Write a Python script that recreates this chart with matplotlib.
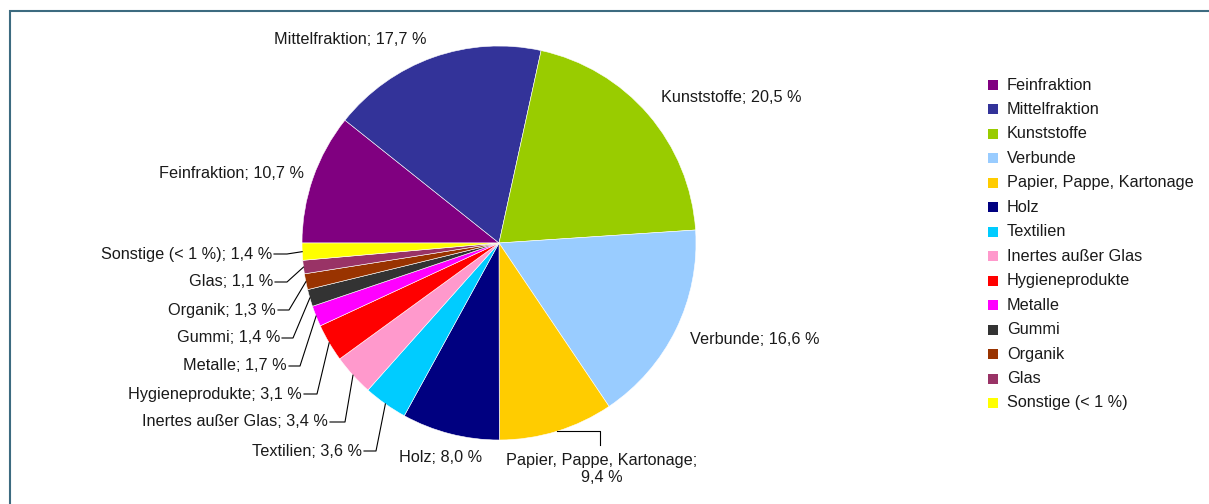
import numpy as np
import matplotlib
matplotlib.use("Agg")
import matplotlib.pyplot as plt
from matplotlib.patches import Rectangle

plt.rcParams['font.family'] = ['Liberation Sans', 'DejaVu Sans']

# Sorting fractions (share of total mass, %)
categories = ["Feinfraktion", "Mittelfraktion", "Kunststoffe", "Verbunde",
              "Papier, Pappe, Kartonage", "Holz", "Textilien",
              "Inertes außer Glas", "Hygieneprodukte", "Metalle", "Gummi",
              "Organik", "Glas", "Sonstige (< 1 %)"]
shares = [10.7, 17.7, 20.5, 16.6, 9.4, 8.0, 3.6, 3.4, 3.1, 1.7, 1.4, 1.3, 1.1, 1.4]
share_labels = ["10,7 %", "17,7 %", "20,5 %", "16,6 %", "9,4 %", "8,0 %", "3,6 %",
                "3,4 %", "3,1 %", "1,7 %", "1,4 %", "1,3 %", "1,1 %", "1,4 %"]
colors = ["#800080", "#333399", "#99CC00", "#99CCFF", "#FFCC00", "#000080",
          "#00CCFF", "#FF99CC", "#FF0000", "#FF00FF", "#333333", "#993300",
          "#993366", "#FFFF00"]

W, H = 1209, 504
fig = plt.figure(figsize=(W / 100, H / 100), dpi=100)
ax = fig.add_axes([0, 0, 1, 1])

cx, cy, R = 499, H - 243, 197
wedges, _ = ax.pie(shares, colors=colors, startangle=180, counterclock=False,
                   center=(cx, cy), radius=R,
                   wedgeprops=dict(linewidth=0.4, edgecolor="white"))

ax.set_xlim(0, W)
ax.set_ylim(0, H)
ax.set_aspect("equal")
ax.axis("off")

FS = 11.7

# label placement: (x, y in screen pixels from top, alignment, elbow x or None)
label_pos = [
    (304, 173, "right", None),
    (427, 39, "right", None),
    (661, 98, "left", None),
    (690, 340, "left", None),
    (602, 469, "center", "paper"),
    (441, 458, "center", None),
    (362, 451, "right", 376),
    (328, 422, "right", 345),
    (302, 394, "right", 317),
    (287, 366, "right", 300),
    (280, 338, "right", 293),
    (276, 310, "right", 289),
    (273, 282, "right", 287),
    (272, 254, "right", 287),
]

for w, cat, lab, (lx, ly, ha, elbow) in zip(wedges, categories, share_labels, label_pos):
    mid = np.deg2rad((w.theta1 + w.theta2) / 2)
    px, py = cx + R * np.cos(mid), cy + R * np.sin(mid)
    y = H - ly
    if elbow == "paper":
        text = f"{cat};\n{lab}"
        ax.text(lx, y, text, ha="center", va="center", fontsize=FS,
                color="#1a1a1a", linespacing=1.15)
        ax.plot([px, 600, 600], [py, py, H - 445], color="black", lw=0.8)
        continue
    ax.text(lx, y, f"{cat}; {lab}", ha=ha, va="center", fontsize=FS, color="#1a1a1a")
    if elbow is not None:
        ax.plot([lx + 2, elbow, px], [y, y, py], color="black", lw=0.8)

# legend
lx0, ly0, step = 988, 85, 24.46
for i, (cat, col) in enumerate(zip(categories, colors)):
    yy = H - (ly0 + i * step)
    ax.add_patch(Rectangle((lx0, yy - 5), 10, 10, facecolor=col, edgecolor="none"))
    ax.text(lx0 + 19, yy, cat, ha="left", va="center", fontsize=FS, color="#1a1a1a")

# outer frame
ax.add_patch(Rectangle((10, -10), W + 20, H - 11 + 10, fill=False,
                       edgecolor="#3D6B80", linewidth=1.5, clip_on=False))

fig.savefig("out.png", dpi=100)
